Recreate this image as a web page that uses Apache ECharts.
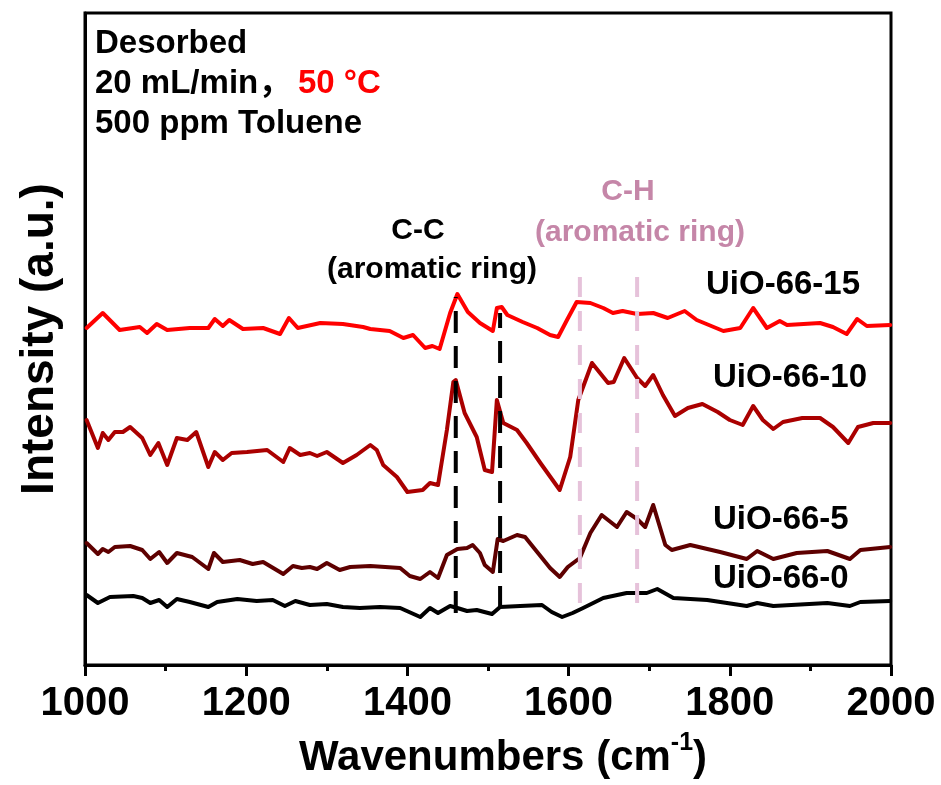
<!DOCTYPE html>
<html>
<head>
<meta charset="utf-8">
<title>Desorbed toluene FTIR</title>
<script src="https://cdn.jsdelivr.net/npm/echarts/dist/echarts.min.js"></script>
<style>
  html, body { margin: 0; padding: 0; background: #fff; }
  #main { width: 941px; height: 785px; }
</style>
</head>
<body>
<div id="main"></div>
<script type="text/javascript">
// wavenumber (cm-1), intensity (a.u., offset curves as plotted)
var uio15 = [[1002,337],[1022,352],[1043,335],[1068,338],[1077,332],[1089,341],[1102,335],[1130,337],
  [1153,337],[1161,346],[1171,339],[1179,345],[1196,336],[1221,337],[1242,331],[1253,347],[1264,337],
  [1292,342],[1320,341],[1345,338],[1354,336],[1378,334],[1395,327],[1407,330],[1422,317],[1431,319],
  [1440,316],[1453,352],[1462,371],[1475,353],[1490,342],[1506,334],[1511,357],[1517,358],[1524,350],
  [1543,343],[1561,337],[1577,330],[1587,328],[1598,345],[1610,363],[1627,362],[1643,357],[1655,352],
  [1667,354],[1685,351],[1705,352],[1723,347],[1744,354],[1759,345],[1792,334],[1813,337],[1829,357],
  [1846,337],[1862,344],[1871,340],[1912,342],[1928,338],[1945,331],[1958,346],[1970,339],[1999,340]];

var uio10 = [[1002,245],[1016,217],[1022,232],[1029,225],[1037,233],[1047,233],[1056,238],[1071,227],
  [1081,210],[1091,222],[1102,200],[1114,227],[1127,225],[1138,233],[1153,198],[1161,213],[1171,205],
  [1182,212],[1201,213],[1226,215],[1246,203],[1254,217],[1267,210],[1279,212],[1288,209],[1300,213],
  [1320,202],[1337,210],[1354,220],[1362,215],[1370,200],[1387,188],[1400,173],[1419,175],[1428,182],
  [1438,180],[1449,235],[1457,283],[1460,285],[1471,252],[1486,228],[1496,195],[1505,193],[1511,265],
  [1519,242],[1536,235],[1548,222],[1565,202],[1589,175],[1602,208],[1612,265],[1629,302],[1636,295],
  [1649,282],[1656,283],[1669,307],[1685,287],[1695,279],[1705,290],[1717,270],[1732,249],[1748,257],
  [1766,261],[1785,253],[1800,245],[1816,240],[1829,259],[1841,245],[1854,236],[1866,243],[1890,247],
  [1912,247],[1928,238],[1947,222],[1959,238],[1978,242],[1999,242]];

var uio5 = [[1002,122],[1016,111],[1022,116],[1029,113],[1037,118],[1056,119],[1071,115],[1081,106],
  [1092,113],[1102,102],[1114,112],[1133,108],[1153,96],[1160,112],[1171,103],[1192,105],[1208,101],
  [1221,103],[1246,91],[1258,99],[1269,97],[1279,98],[1288,96],[1300,102],[1316,95],[1329,98],[1354,99],
  [1391,97],[1403,89],[1416,86],[1428,93],[1438,87],[1449,110],[1462,116],[1474,117],[1481,120],
  [1490,112],[1496,100],[1506,93],[1512,126],[1519,124],[1536,130],[1546,128],[1561,113],[1577,97],
  [1589,88],[1599,98],[1614,107],[1627,132],[1641,150],[1660,138],[1672,153],[1685,146],[1695,138],
  [1705,160],[1720,120],[1728,115],[1751,120],[1788,113],[1821,106],[1834,114],[1854,106],[1883,112],
  [1921,114],[1949,106],[1962,115],[1999,118]];

var uio0 = [[1002,70],[1016,62],[1031,68],[1060,69],[1071,67],[1081,62],[1092,65],[1102,58],[1114,66],
  [1130,63],[1153,58],[1164,63],[1189,66],[1213,64],[1233,65],[1248,59],[1261,64],[1279,60],[1300,61],
  [1320,58],[1341,57],[1366,58],[1391,57],[1416,48],[1428,57],[1438,52],[1453,59],[1462,57],[1474,54],
  [1486,55],[1505,51],[1515,58],[1540,59],[1567,60],[1579,53],[1592,48],[1605,52],[1618,57],[1643,67],
  [1672,72],[1697,72],[1710,76],[1730,67],[1772,65],[1821,59],[1834,62],[1854,59],[1921,62],[1949,59],
  [1962,63],[1999,64]];

var seriesNames = ['UiO-66-15', 'UiO-66-10', 'UiO-66-5', 'UiO-66-0'];

// band guide lines: wavenumber and intensity span
var ccBands = [1460, 1515];
var ccSpans = [[52, 368], [57, 352]];
var chBands = [1614, 1685];
var chSpans = [[62, 398], [62, 398]];

var xTicks = [1000, 1200, 1400, 1600, 1800, 2000];

var FONT = '"Liberation Sans", Arial, "Noto Sans CJK SC", sans-serif';
var colors = ['#ff0000', '#aa0000', '#5e0000', '#000000'];

var myChart = echarts.init(document.getElementById('main'));

var series = [];
[uio15, uio10, uio5, uio0].forEach(function (d, i) {
    series.push({
        name: seriesNames[i],
        type: 'line',
        data: d,
        showSymbol: false,
        symbol: 'none',
        lineStyle: { color: colors[i], width: 4, join: 'round', cap: 'round' },
        z: 2
    });
});
ccBands.forEach(function (w, i) {
    series.push({
        type: 'line', symbol: 'none', z: 3,
        data: [[w, ccSpans[i][0]], [w, ccSpans[i][1]]],
        lineStyle: { color: '#000', width: 4, type: [22, 13] }
    });
});
chBands.forEach(function (w, i) {
    series.push({
        type: 'line', symbol: 'none', z: 3,
        data: [[w, chSpans[i][0]], [w, chSpans[i][1]]],
        lineStyle: { color: '#e6c2da', width: 4, type: [20, 14] }
    });
});

function txt(s, x, y, color, size, align) {
    return {
        type: 'text', z: 10,
        style: {
            text: s, x: x, y: y, fill: color,
            fontSize: size, fontWeight: 'bold', fontFamily: FONT,
            align: align || 'left', textAlign: align || 'left',
            verticalAlign: 'middle', textVerticalAlign: 'middle'
        }
    };
}

var option = {
    animation: false,
    grid: {
        left: 85, right: 50, top: 13, bottom: 120,
        show: true, borderColor: '#000', borderWidth: 3
    },
    xAxis: {
        type: 'value', min: 1000, max: 2000, interval: 200,
        name: '{a|Wavenumbers (cm}{s|-1}{a|)}',
        nameLocation: 'middle', nameGap: 66,
        nameTextStyle: {
            padding: [0, 0, 0, 30],
            rich: {
                a: { fontSize: 42, fontWeight: 'bold', fontFamily: FONT, color: '#000', lineHeight: 48, verticalAlign: 'bottom' },
                s: { fontSize: 25, fontWeight: 'bold', fontFamily: FONT, color: '#000', lineHeight: 48, verticalAlign: 'top' }
            }
        },
        axisLine: { lineStyle: { color: '#000', width: 3 } },
        axisTick: { length: 11, lineStyle: { width: 3, color: '#000' } },
        minorTick: { show: true, splitNumber: 2, length: 6, lineStyle: { width: 3, color: '#000' } },
        splitLine: { show: false },
        axisLabel: {
            margin: 19, fontSize: 40, fontWeight: 'bold', fontFamily: FONT, color: '#000',
            formatter: function (v) { return xTicks.indexOf(v) >= 0 ? String(v) : ''; }
        }
    },
    yAxis: {
        type: 'value', min: 0, max: 652,
        name: 'Intensity (a.u.)',
        nameLocation: 'middle', nameRotate: 90, nameGap: 22,
        nameTextStyle: { fontSize: 46, fontWeight: 'bold', fontFamily: FONT, color: '#000' },
        axisLine: { show: true, lineStyle: { color: '#000', width: 3 } },
        axisTick: { show: false },
        axisLabel: { show: false },
        splitLine: { show: false }
    },
    graphic: [
        txt('Desorbed', 95, 44, '#000', 33),
        txt('20 mL/min，', 95, 84, '#000', 33),
        txt('50 °C', 298, 84, '#ff0000', 33),
        txt('500 ppm Toluene', 95, 124, '#000', 33),
        txt('C-C', 418, 231, '#000', 30, 'center'),
        txt('(aromatic ring)', 432, 270, '#000', 30, 'center'),
        txt('C-H', 628, 192, '#c586a8', 30, 'center'),
        txt('(aromatic ring)', 640, 233, '#c586a8', 30, 'center'),
        txt(seriesNames[0], 706, 285, '#000', 33),
        txt(seriesNames[1], 713, 378, '#000', 33),
        txt(seriesNames[2], 713, 520, '#000', 33),
        txt(seriesNames[3], 713, 579, '#000', 33)
    ],
    series: series
};

myChart.setOption(option);
</script>
</body>
</html>
